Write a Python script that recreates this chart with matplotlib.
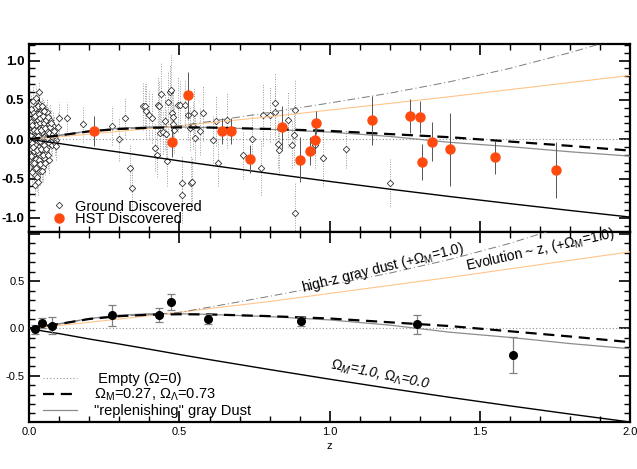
import matplotlib
matplotlib.use("Agg")
import matplotlib.pyplot as plt
from matplotlib.lines import Line2D
from matplotlib.ticker import MultipleLocator

plt.rcParams['font.family'] = ['Liberation Sans', 'DejaVu Sans']
plt.rcParams['mathtext.fontset'] = 'custom'
plt.rcParams['mathtext.rm'] = 'Liberation Sans'
plt.rcParams['mathtext.it'] = 'Liberation Sans:italic'

# model curves, Delta(m-M) relative to an empty universe
model_z = [0.0, 0.05, 0.1, 0.2, 0.3, 0.4, 0.5, 0.6, 0.8, 1.0, 1.2, 1.4, 1.6, 1.8, 2.0]
lcdm = [0.0, 0.025, 0.047, 0.10, 0.13, 0.145, 0.15, 0.148, 0.13, 0.105, 0.065, 0.025, -0.03, -0.085, -0.145]
replenish = [0.0, 0.027, 0.05, 0.105, 0.14, 0.155, 0.155, 0.148, 0.125, 0.09, 0.035, -0.04, -0.095, -0.16, -0.215]
matter = [0.0, -0.03, -0.055, -0.112, -0.165, -0.22, -0.276, -0.33, -0.435, -0.537, -0.635, -0.729, -0.819, -0.906, -0.99]
evolution = [0.0, 0.015, 0.03, 0.065, 0.10, 0.135, 0.17, 0.21, 0.285, 0.37, 0.455, 0.54, 0.63, 0.72, 0.81]
graydust = [0.0, 0.025, 0.047, 0.10, 0.13, 0.145, 0.17, 0.225, 0.34, 0.46, 0.585, 0.73, 0.90, 1.10, 1.32]

# ground discovered SNe
ground_z = [0.004, 0.006, 0.007, 0.008, 0.009, 0.010, 0.011, 0.012, 0.013, 0.014, 0.015, 0.016,
            0.017, 0.018, 0.019, 0.020, 0.021, 0.022, 0.023, 0.024, 0.025, 0.026, 0.027, 0.028,
            0.029, 0.030, 0.031, 0.032, 0.033, 0.034, 0.035, 0.036, 0.037, 0.038, 0.039, 0.040,
            0.041, 0.042, 0.043, 0.044, 0.045, 0.046, 0.047, 0.048, 0.049, 0.050, 0.052, 0.054,
            0.056, 0.058, 0.060, 0.062, 0.064, 0.066, 0.068, 0.070, 0.073, 0.076, 0.080, 0.085,
            0.090, 0.096,
            0.005, 0.007, 0.009, 0.010, 0.012, 0.013, 0.015, 0.016, 0.018, 0.019, 0.021, 0.022,
            0.024, 0.025, 0.027, 0.028, 0.030, 0.031, 0.033, 0.034, 0.036, 0.037, 0.039, 0.040,
            0.042, 0.043, 0.045, 0.046, 0.048, 0.050, 0.051, 0.053, 0.055, 0.057, 0.059, 0.061,
            0.063, 0.065, 0.067, 0.069, 0.072, 0.075, 0.078, 0.082, 0.087, 0.032, 0.029,
            0.10, 0.124, 0.18, 0.276, 0.30, 0.09, 0.32, 0.335, 0.343,
            0.377, 0.385, 0.39, 0.40, 0.41, 0.418, 0.424, 0.43, 0.432, 0.44, 0.435, 0.444,
            0.451, 0.454, 0.46, 0.462, 0.468, 0.471, 0.474, 0.477, 0.479, 0.482, 0.496, 0.501,
            0.507, 0.518, 0.529, 0.535, 0.54, 0.546, 0.549, 0.551, 0.568, 0.579, 0.612, 0.621,
            0.629, 0.657, 0.507, 0.542,
            0.71, 0.742, 0.773, 0.778, 0.80, 0.817, 0.817, 0.828, 0.832, 0.862, 0.873, 0.884,
            0.882, 0.886, 0.95, 0.978, 1.056, 1.20]
ground_dm = [0.05, -0.12, 0.22, -0.30, 0.10, -0.05, 0.35, -0.20, 0.15, -0.38, 0.02, 0.28,
             -0.15, 0.08, -0.45, 0.40, -0.08, 0.18, -0.25, 0.05, 0.32, -0.33, 0.12, -0.02,
             0.24, -0.18, 0.45, -0.10, 0.06, -0.28, 0.20, -0.40, 0.14, 0.00, 0.36, -0.22,
             0.09, -0.06, 0.26, -0.35, 0.16, -0.14, 0.38, 0.03, -0.24, 0.21, -0.04, 0.30,
             -0.17, 0.11, 0.34, -0.09, 0.19, -0.27, 0.07, 0.25, -0.03, 0.13, 0.17, 0.04,
             -0.01, 0.15,
             -0.22, 0.38, -0.42, 0.18, 0.48, -0.10, -0.30, 0.12, -0.58, 0.30, 0.52, -0.36,
             -0.14, 0.10, -0.48, 0.42, 0.04, -0.26, 0.32, -0.02, 0.27, -0.32, -0.12, 0.12,
             0.42, -0.40, -0.20, 0.30, -0.08, 0.36, -0.30, 0.14, -0.12, 0.24, 0.02, -0.20,
             0.28, 0.08, -0.05, 0.15, 0.20, -0.08, 0.06, 0.10, -0.05, 0.60, -0.55,
             0.27, 0.27, 0.19, 0.17, 0.0, -0.09, 0.27, -0.36, -0.62,
             0.42, 0.42, 0.36, 0.31, 0.27, -0.11, -0.20, 0.44, 0.42, 0.58, 0.08, 0.09,
             0.23, 0.07, -0.28, 0.47, 0.60, 0.62, 0.33, 0.28, 0.19, 0.12, 0.44, 0.44,
             -0.56, 0.44, 0.31, 0.14, -0.56, 0.17, 0.33, 0.02, 0.10, 0.33, -0.005, 0.23,
             -0.30, 0.24, -0.71, -0.55,
             -0.20, 0.0, -0.36, 0.31, 0.31, 0.46, 0.34, -0.06, -0.14, 0.25, -0.07, 0.37,
             0.05, -0.94, -0.07, -0.24, -0.12, -0.555]
ground_err = [0.12, 0.15, 0.18, 0.14, 0.20, 0.12, 0.16, 0.22, 0.13, 0.18, 0.15, 0.20,
              0.14, 0.12, 0.18, 0.16, 0.22, 0.13, 0.15, 0.18, 0.14, 0.20, 0.12, 0.16,
              0.15, 0.18, 0.13, 0.20, 0.14, 0.16, 0.12, 0.18, 0.15, 0.22, 0.13, 0.16,
              0.18, 0.14, 0.12, 0.20, 0.15, 0.16, 0.13, 0.18, 0.14, 0.12, 0.20, 0.15,
              0.16, 0.13, 0.18, 0.14, 0.12, 0.16, 0.15, 0.20, 0.13, 0.14, 0.18, 0.16,
              0.15, 0.20,
              0.14, 0.18, 0.12, 0.16, 0.20, 0.13, 0.15, 0.18, 0.14, 0.12, 0.16, 0.20,
              0.13, 0.15, 0.18, 0.14, 0.12, 0.16, 0.15, 0.20, 0.13, 0.18, 0.14, 0.16,
              0.12, 0.15, 0.20, 0.13, 0.18, 0.14, 0.16, 0.12, 0.15, 0.20, 0.13, 0.18,
              0.14, 0.16, 0.12, 0.15, 0.18, 0.14, 0.16, 0.20, 0.15, 0.14, 0.16,
              0.20, 0.20, 0.22, 0.25, 0.28, 0.18, 0.25, 0.28, 0.30,
              0.30, 0.28, 0.35, 0.30, 0.32, 0.30, 0.28, 0.35, 0.32, 0.40, 0.30, 0.28,
              0.35, 0.30, 0.32, 0.40, 0.35, 0.45, 0.30, 0.32, 0.28, 0.30, 0.35, 0.30,
              0.35, 0.30, 0.32, 0.28, 0.35, 0.30, 0.32, 0.28, 0.30, 0.35, 0.30, 0.32,
              0.30, 0.35, 0.35, 0.32,
              0.30, 0.32, 0.35, 0.40, 0.35, 0.38, 0.35, 0.30, 0.32, 0.35, 0.30, 0.40,
              0.38, 0.40, 0.30, 0.35, 0.25, 0.30]

# HST discovered SNe
hst_z = [0.216, 0.475, 0.527, 0.64, 0.67, 0.736, 0.84, 0.90, 0.936, 0.95, 0.956,
         1.141, 1.266, 1.30, 1.306, 1.342, 1.40, 1.551, 1.755]
hst_dm = [0.105, -0.04, 0.56, 0.105, 0.105, -0.25, 0.15, -0.26, -0.15, -0.01, 0.21,
          0.24, 0.295, 0.28, -0.29, -0.03, -0.13, -0.23, -0.39]
hst_err = [0.19, 0.19, 0.30, 0.17, 0.17, 0.18, 0.27, 0.29, 0.18, 0.17, 0.15,
           0.31, 0.22, 0.20, 0.23, 0.25, 0.46, 0.21, 0.36]

# binned data
bin_z = [0.019, 0.043, 0.077, 0.274, 0.4325, 0.471, 0.596, 0.906, 1.291, 1.61]
bin_dm = [-0.01, 0.057, 0.03, 0.137, 0.145, 0.28, 0.10, 0.074, 0.043, -0.28]
bin_err = [0.05, 0.05, 0.09, 0.11, 0.075, 0.08, 0.05, 0.045, 0.10, 0.19]

ORANGE_LINE = '#ffc58a'
HST_COLOR = '#ff4a0f'

fig = plt.figure(figsize=(6.37, 4.69), dpi=100)
ax1 = fig.add_axes([0.046, 0.5053, 0.943, 0.4009])
ax2 = fig.add_axes([0.046, 0.1002, 0.943, 0.4051])


def draw_models(ax):
    ax.axhline(0, color='#909090', lw=0.8, ls=(0, (1, 2)), zorder=2)
    ax.plot(model_z, matter, color='black', lw=1.0, zorder=3)
    ax.plot(model_z, replenish, color='#8c8c8c', lw=0.9, zorder=3)
    ax.plot(model_z, evolution, color=ORANGE_LINE, lw=0.8, zorder=3)
    ax.plot(model_z, graydust, color='#7a7a7a', lw=0.7, ls=(0, (8, 3, 1, 3)), zorder=3)
    ax.plot(model_z, lcdm, color='black', lw=1.6, ls=(0, (5, 3)), zorder=4)


def style_axes(ax, size, weight):
    ax.set_xlim(0, 2.0)
    ax.xaxis.set_major_locator(MultipleLocator(0.5))
    ax.xaxis.set_minor_locator(MultipleLocator(0.1))
    ax.yaxis.set_major_locator(MultipleLocator(0.5))
    ax.yaxis.set_minor_locator(MultipleLocator(0.1))
    ax.tick_params(which='both', direction='in', top=True, right=True)
    ax.tick_params(which='major', length=8, width=1.2, labelsize=size)
    ax.tick_params(which='minor', length=4.5, width=1.0)
    for s in ax.spines.values():
        s.set_linewidth(1.6)
    for lab in ax.get_yticklabels():
        lab.set_fontweight(weight)


# top panel
eb = ax1.errorbar(ground_z, ground_dm, yerr=ground_err, fmt='none', ecolor='#9a9a9a',
                  elinewidth=0.7, zorder=1)
for c in eb[2]:
    c.set_linestyle((0, (1, 1.5)))
ax1.plot(ground_z, ground_dm, 'D', ms=3.3, mfc='white', mec='#333333', mew=0.6, ls='none', zorder=2)
draw_models(ax1)
ax1.errorbar(hst_z, hst_dm, yerr=hst_err, fmt='none', ecolor='#555555', elinewidth=0.7, zorder=5)
ax1.plot(hst_z, hst_dm, 'o', ms=6.5, color=HST_COLOR, mec=HST_COLOR, ls='none', zorder=6)
ax1.set_ylim(-1.18, 1.21)
ax1.set_yticks([-1.0, -0.5, 0.0, 0.5, 1.0])
ax1.set_yticklabels(['-1.0', '-0.5', '0.0', '0.5', '1.0'])
ax1.tick_params(labelbottom=False)
style_axes(ax1, 9.5, 'bold')
ax1.set_ylabel('Δ(m-M) (mag)', fontsize=9)
ax1.yaxis.set_label_coords(-0.053, 0.5)

handles1 = [Line2D([], [], marker='D', ms=3.3, mfc='white', mec='#333333', mew=0.6, ls='none'),
            Line2D([], [], marker='o', ms=6.5, color=HST_COLOR, ls='none')]
ax1.legend(handles1, ['Ground Discovered', 'HST Discovered'], loc='lower left',
           bbox_to_anchor=(0.039, 0.03), frameon=False, fontsize=10.5, handlelength=0.8,
           handletextpad=0.75, labelspacing=-0.08, borderpad=0, borderaxespad=0)

# bottom panel
draw_models(ax2)
ax2.errorbar(bin_z, bin_dm, yerr=bin_err, fmt='o', ms=5.5, color='black', ecolor='#808080',
             elinewidth=0.9, capsize=3, capthick=0.9, zorder=6)
ax2.set_ylim(-0.99, 1.02)
ax2.set_yticks([-0.5, 0.0, 0.5])
ax2.set_yticklabels(['-0.5', '0.0', '0.5'])
style_axes(ax2, 8, 'normal')
ax2.set_xticks([0.0, 0.5, 1.0, 1.5, 2.0])
ax2.set_xticklabels(['0.0', '0.5', '1.0', '1.5', '2.0'])
ax2.set_xlabel('z', fontsize=8, labelpad=3)
ax2.set_ylabel('Δ(m-M) (mag)', fontsize=9)
ax2.yaxis.set_label_coords(-0.053, 0.5)

ax2.text(1.178, 0.64, r'high-z gray dust (+$\Omega_\mathrm{M}$=1.0)', rotation=14,
         ha='center', va='center', rotation_mode='anchor', fontsize=10)
ax2.text(1.703, 0.835, r'Evolution ~ z, (+$\Omega_\mathrm{M}$=1.0)', rotation=12.5,
         ha='center', va='center', rotation_mode='anchor', fontsize=10)
ax2.text(1.167, -0.49, r'$\Omega_M$=1.0, $\Omega_\Lambda$=0.0', rotation=-11.5,
         ha='center', va='center', rotation_mode='anchor', fontsize=10, style='italic')

handles2 = [Line2D([], [], color='#909090', lw=0.8, ls=(0, (1, 2))),
            Line2D([], [], color='black', lw=1.6, ls=(0, (5, 3))),
            Line2D([], [], color='#8c8c8c', lw=0.9)]
ax2.legend(handles2, [' Empty (Ω=0)', r'$\Omega_\mathrm{M}$=0.27, $\Omega_\Lambda$=0.73',
                      '"replenishing" gray Dust'],
           loc='lower left', bbox_to_anchor=(0.023, 0.02), frameon=False, fontsize=10.5,
           handlelength=2.3, handletextpad=1.2, labelspacing=0.05, borderpad=0, borderaxespad=0)

fig.savefig('out.png', dpi=100)
